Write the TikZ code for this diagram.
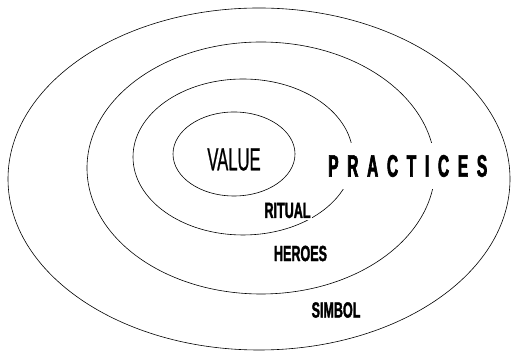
\documentclass[tikz,border=0pt]{standalone}
\usepackage{fontspec}
\usepackage{tikz}
\usetikzlibrary{shapes.geometric}
\newfontfamily\thinlabel[FakeStretch=0.52,FakeBold=0.6]{Liberation Sans}
\newfontfamily\boldlabel[FakeStretch=0.57,FakeBold=1.5]{Liberation Sans Bold}
\newfontfamily\widelabel[FakeStretch=0.5,FakeBold=2,LetterSpace=28]{Liberation Sans Bold}

\tikzset{
  ring/.style={ellipse, draw, line width=0.6pt, inner sep=0pt},
  layer/.style={fill=white, inner sep=2pt, font=\boldlabel\fontsize{22}{22}\selectfont}
}

\begin{document}
\begin{tikzpicture}[x=1pt, y=1pt]
\useasboundingbox (0,0) rectangle (511,352);

\node[ring, minimum width=502pt, minimum height=342pt] (symbols) at (259,173) {};
\node[ring, minimum width=348pt, minimum height=252pt] (heroes) at (261,184) {};
\node[ring, minimum width=220pt, minimum height=156pt] (rituals) at (243,195) {};
\node[ring, minimum width=122pt, minimum height=84pt] (values) at (234,198) {};

\node[font=\thinlabel\fontsize{32}{32}\selectfont] (valuetext) at (234,192.5) {VALUE};
\node[fill=white, anchor=west, inner xsep=6pt, inner ysep=12pt,
      font=\widelabel\fontsize{31}{31}\selectfont] (practices) at (322,186) {PRACTICES};

\node[layer] (ritualtext) at (287.5,141.5) {RITUAL};
\node[layer] (heroestext) at (300.5,98.5) {HEROES};
\node[layer] (simboltext) at (336,42) {SIMBOL};

\end{tikzpicture}
\end{document}
